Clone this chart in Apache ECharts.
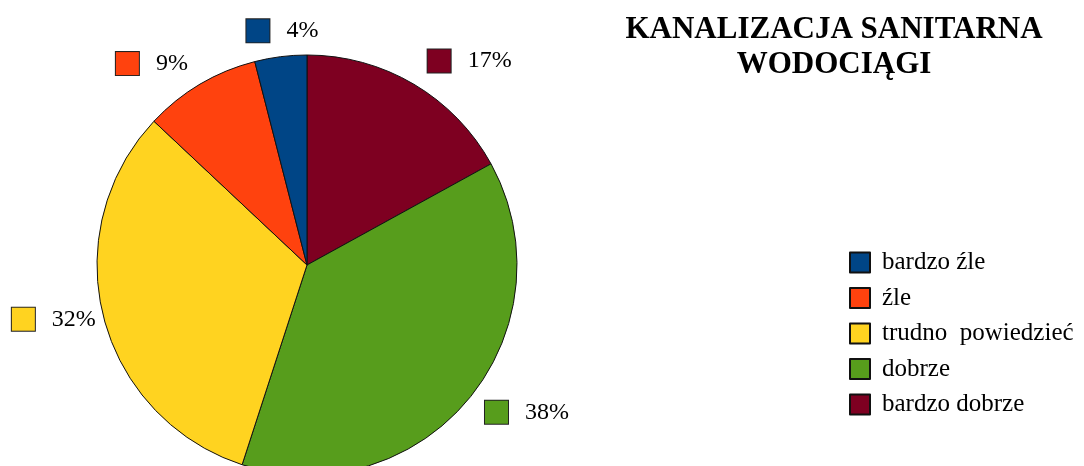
<!DOCTYPE html>
<html>
<head>
<meta charset="utf-8">
<script src="https://cdn.jsdelivr.net/npm/echarts@6/dist/echarts.min.js"></script>
<style>
html, body { margin: 0; padding: 0; background: #fff; }
#chart { width: 1084px; height: 466px; }
</style>
</head>
<body>
<div id="chart"></div>
<script>
// slices clockwise from 12 o'clock
var categories = ['bardzo dobrze', 'dobrze', 'trudno  powiedzieć', 'źle', 'bardzo źle'];
var values = [17, 38, 32, 9, 4];
var colors = ['#7e0021', '#579d1c', '#ffd320', '#ff420e', '#004586'];
// legend reads top to bottom
var legendOrder = ['bardzo źle', 'źle', 'trudno  powiedzieć', 'dobrze', 'bardzo dobrze'];

// how far each percent label sits out from the rim
var labelPull = [27, 21, 8, 24, 26];

var serif = '"Liberation Serif", "Times New Roman", serif';

var rich = {
    v: { fontFamily: serif, fontSize: 24, color: '#000', padding: [0, 0, 0, 17] }
};
colors.forEach(function (c, i) {
    rich['sq' + i] = { width: 23, height: 23, backgroundColor: c, borderColor: '#222', borderWidth: 1 };
});

var pieData = categories.map(function (name, i) {
    return {
        name: name,
        value: values[i],
        itemStyle: { color: colors[i] },
        labelLine: { show: false, length: labelPull[i], length2: 0 }
    };
});

var chart = echarts.init(document.getElementById('chart'));
chart.setOption({
    animation: false,
    title: {
        text: 'KANALIZACJA SANITARNA\nWODOCIĄGI',
        left: 834,
        top: 12,
        padding: 0,
        textAlign: 'center',
        textStyle: { fontFamily: serif, fontSize: 31, fontWeight: 'bold', color: '#000', lineHeight: 35 }
    },
    legend: {
        orient: 'vertical',
        left: 849,
        top: 250,
        padding: 0,
        itemWidth: 20,
        itemHeight: 20,
        itemGap: 10.5,
        icon: 'rect',
        data: legendOrder,
        textStyle: { fontFamily: serif, fontSize: 25, color: '#000', padding: [0, 0, 0, 7] }
    },
    series: [{
        type: 'pie',
        center: [307, 265],
        radius: 210,
        startAngle: 90,
        clockwise: true,
        itemStyle: { borderColor: '#111', borderWidth: 1 },
        label: {
            show: true,
            position: 'outside',
            distanceToLabelLine: 0,
            formatter: function (p) {
                return '{sq' + p.dataIndex + '|}{v|' + p.value + '%}';
            },
            rich: rich
        },
        labelLayout: function (p) {
            // the small top slice gets its label centred over it
            return p.dataIndex === 4 ? { align: 'center', dx: 5 } : {};
        },
        data: pieData
    }]
});
</script>
</body>
</html>
